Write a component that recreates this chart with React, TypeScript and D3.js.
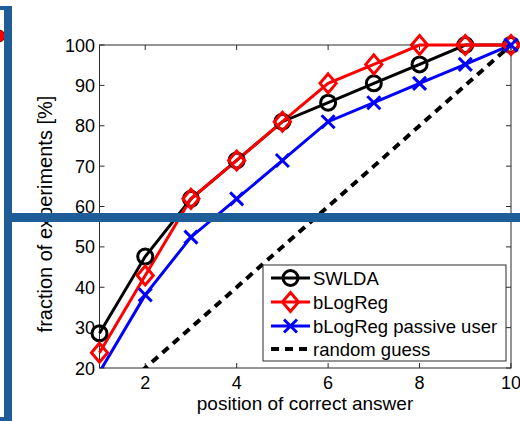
import React from 'react';
import * as d3 from 'd3';

// positions 1..10 of the correct answer
const positions = [1, 2, 3, 4, 5, 6, 7, 8, 9, 10];
const swlda = [28.6, 47.6, 61.9, 71.4, 81.0, 85.7, 90.5, 95.2, 100, 100];
const blogreg = [23.8, 42.9, 61.9, 71.4, 81.0, 90.5, 95.2, 100, 100, 100];
const passive = [19.0, 38.1, 52.4, 61.9, 71.4, 81.0, 85.7, 90.5, 95.2, 100];
const randomGuess = [10, 20, 30, 40, 50, 60, 70, 80, 90, 100];

const xTicks = [2, 4, 6, 8, 10];
const yTicks = [20, 30, 40, 50, 60, 70, 80, 90, 100];

const seriesNames = ['SWLDA', 'bLogReg', 'bLogReg passive user', 'random guess'];

const W = 520, H = 421;
const font = 'Liberation Sans, Arial, Helvetica, sans-serif';
const axisColor = '#2b2b2b';
const overlayBlue = '#1f5d99';

function Marker({ kind, x, y, color }: { kind: string; x: number; y: number; color: string }) {
  if (kind === 'circle') {
    return <circle cx={x} cy={y} r={7.5} fill="none" stroke={color} strokeWidth={3} />;
  }
  if (kind === 'diamond') {
    const s = 9.5;
    return (
      <path
        d={`M${x},${y - s}L${x + s * 0.85},${y}L${x},${y + s}L${x - s * 0.85},${y}Z`}
        fill="none"
        stroke={color}
        strokeWidth={3}
        strokeLinejoin="miter"
      />
    );
  }
  if (kind === 'x') {
    const s = 6.5;
    return (
      <path d={`M${x - s},${y - s}L${x + s},${y + s}M${x - s},${y + s}L${x + s},${y - s}`} stroke={color} strokeWidth={3} />
    );
  }
  return null;
}

export default function App() {
  const x = d3.scaleLinear().domain([1, 10]).range([99.5, 511]);
  const y = d3.scaleLinear().domain([20, 100]).range([368, 45]);
  const [x0, x1] = x.range();
  const [yb, yt] = y.range();

  const line = d3
    .line<number>()
    .x((_, i) => x(positions[i]))
    .y((d) => y(d));

  const series = [
    { name: seriesNames[0], values: swlda, color: '#000000', marker: 'circle', dash: undefined },
    { name: seriesNames[1], values: blogreg, color: '#ff0000', marker: 'diamond', dash: undefined },
    { name: seriesNames[2], values: passive, color: '#0000ff', marker: 'x', dash: undefined },
    { name: seriesNames[3], values: randomGuess, color: '#000000', marker: 'none', dash: '8,6' },
  ];

  const legend = { x: 263, y: 265, w: 243, h: 96 };
  const rowY = [278, 302, 326, 349];

  return (
    <svg width={W} height={H} style={{ position: 'fixed', left: 0, top: 0, background: '#fff' }} fontFamily={font}>
      <defs>
        <clipPath id="plotClip">
          <rect x={x0 - 3} y={yt - 3} width={x1 - x0 + 6} height={yb - yt + 3} />
        </clipPath>
      </defs>
      <rect x={0} y={0} width={W} height={H} fill="#fff" />

      {/* axes box */}
      <rect x={x0} y={yt} width={x1 - x0} height={yb - yt} fill="none" stroke={axisColor} strokeWidth={1} />
      {xTicks.map((t) => (
        <g key={'xt' + t}>
          <line x1={x(t)} x2={x(t)} y1={yb} y2={yb - 5} stroke={axisColor} />
          <line x1={x(t)} x2={x(t)} y1={yt} y2={yt + 5} stroke={axisColor} />
          <text x={x(t)} y={389} textAnchor="middle" fontSize={18} fill="#000">
            {t}
          </text>
        </g>
      ))}
      {yTicks.map((t) => (
        <g key={'yt' + t}>
          <line x1={x0} x2={x0 + 5} y1={y(t)} y2={y(t)} stroke={axisColor} />
          <line x1={x1} x2={x1 - 5} y1={y(t)} y2={y(t)} stroke={axisColor} />
          <text x={95} y={y(t) + 6.5} textAnchor="end" fontSize={18} fill="#000">
            {t}
          </text>
        </g>
      ))}
      <text x={305} y={410} textAnchor="middle" fontSize={19} fill="#000">
        position of correct answer
      </text>
      <text transform="translate(52,214) rotate(-90)" textAnchor="middle" fontSize={20} fill="#000">
        fraction of experiments [%]
      </text>

      {/* lines */}
      <g clipPath="url(#plotClip)">
        {series.map((s) => (
          <path
            key={'l' + s.name}
            d={line(s.values) || ''}
            fill="none"
            stroke={s.color}
            strokeWidth={s.dash ? 4 : 3}
            strokeDasharray={s.dash}
          />
        ))}
      </g>
      {series.map((s) =>
        s.values.map((v, i) =>
          v >= 20 ? <Marker key={s.name + i} kind={s.marker} x={x(positions[i])} y={y(v)} color={s.color} /> : null
        )
      )}

      {/* legend */}
      <rect x={legend.x} y={legend.y} width={legend.w} height={legend.h} fill="#fff" stroke={axisColor} strokeWidth={1} />
      {series.map((s, i) => (
        <g key={'lg' + s.name}>
          <line
            x1={271}
            x2={310}
            y1={rowY[i]}
            y2={rowY[i]}
            stroke={s.color}
            strokeWidth={s.dash ? 4 : 3}
            strokeDasharray={s.dash}
          />
          <Marker kind={s.marker} x={290.5} y={rowY[i]} color={s.color} />
          <text x={313} y={rowY[i] + 6.5} fontSize={18.5} fill="#000">
            {s.name}
          </text>
        </g>
      ))}

      {/* overlay annotations */}
      <circle cx={-1} cy={36} r={6} fill="#ff0000" stroke="#600" strokeWidth={1} />
      <rect x={0} y={6} width={12} height={4} fill={overlayBlue} />
      <rect x={4} y={6} width={8} height={415} fill={overlayBlue} />
      <rect x={0} y={417} width={12} height={4} fill={overlayBlue} />
      <rect x={4} y={213} width={516} height={9} fill={overlayBlue} />
    </svg>
  );
}
